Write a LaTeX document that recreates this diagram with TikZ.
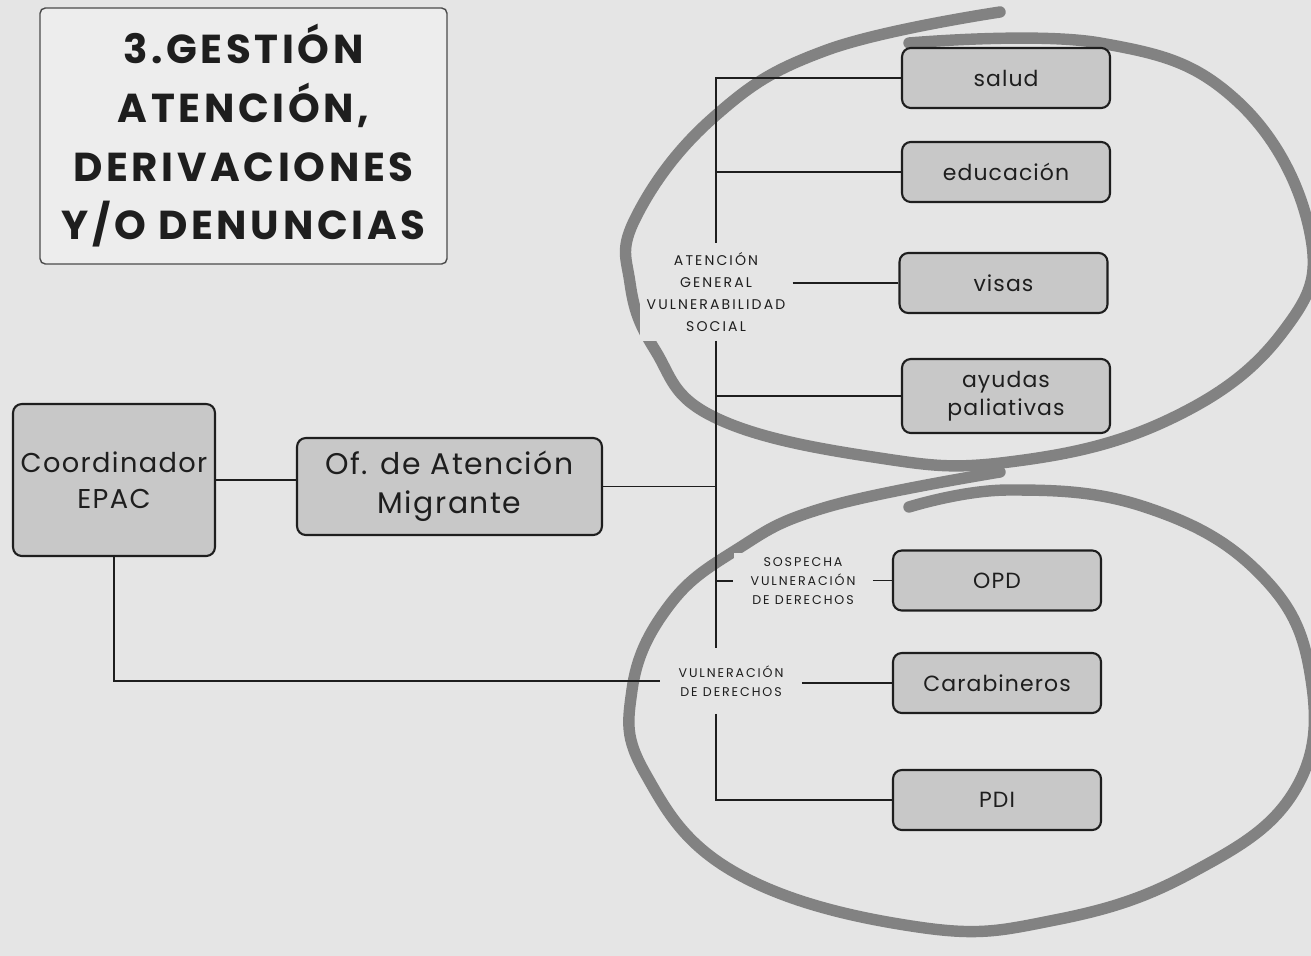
\documentclass[tikz,border=0pt]{standalone}
\usepackage{fontspec}
\setmainfont{Poppins}
\newfontfamily\boxfont[LetterSpace=5]{Poppins}
\newfontfamily\tagfont[LetterSpace=15]{Poppins}
\newfontfamily\titlefont[LetterSpace=9]{Poppins}

\definecolor{paper}{HTML}{E5E5E5}
\definecolor{boxgray}{HTML}{C8C8C8}
\definecolor{brushgray}{HTML}{828282}
\definecolor{titlefill}{HTML}{EDEDED}
\definecolor{ink}{HTML}{1E1E1E}

\begin{document}
\begin{tikzpicture}[x=0.02cm, y=-0.02cm,
    every node/.style={align=center, text=ink},
    unit/.style={draw=ink, line width=1.2pt, fill=boxgray, rounded corners=5pt,
        font=\boxfont\fontsize{12.5}{16}\selectfont,
        minimum width=4.16cm, minimum height=1.2cm},
    tag/.style={fill=paper, font=\tagfont\fontsize{8}{12.5}\selectfont,
        inner xsep=0.14cm, inner ysep=0.18cm},
    link/.style={draw=ink, line width=1.1pt},
    brush/.style={draw=brushgray, line width=6.5pt, line cap=round, line join=round}]

    % page
    \fill[paper] (0,0) rectangle (1311,956);
    \useasboundingbox (0,0) rectangle (1311,956);

    % hand drawn circles
    \draw[brush] plot[smooth, tension=0.7] coordinates {(1000,12) (827,50) (714,117)
        (636,217) (630,283) (655,350) (714,417) (873,457) (1009,462) (1168,420)
        (1282,333) (1310,233) (1236,100) (1100,43) (909,43)};
    \draw[brush] plot[smooth, tension=0.7] coordinates {(1000,472) (827,507) (736,550)
        (668,607) (632,690) (645,773) (736,873) (918,927) (1055,920) (1191,873)
        (1295,790) (1310,673) (1259,573) (1145,507) (1009,490) (909,507)};

    % title
    \node[draw=ink!80, line width=0.8pt, fill=titlefill, rounded corners=3pt,
        minimum width=8.14cm, minimum height=5.12cm,
        font=\titlefont\bfseries\fontsize{23}{33.4}\selectfont] (title)
        at (243.5,136) {3.GESTIÓN\\ATENCIÓN,\\DERIVACIONES\\Y/O DENUNCIAS};

    % left chain
    \node[unit, minimum width=4.04cm, minimum height=3.04cm,
        font=\boxfont\fontsize{15.5}{20.4}\selectfont] (coord)
        at (114,480) {Coordinador\\EPAC};
    \node[unit, minimum width=6.1cm, minimum height=1.94cm,
        font=\boxfont\fontsize{17}{22}\selectfont] (ofam)
        at (449.5,486.5) {Of. de Atención\\Migrante};

    % right boxes
    \foreach \n/\x/\y/\t in {salud/1006/78/salud, edu/1006/172/educación,
        visas/1003.5/283/visas, opd/997/580.5/OPD,
        cara/997/683/Carabineros, pdi/997/800/PDI} {
        \node[unit] (\n) at (\x,\y) {\t};
    }
    \node[unit, minimum height=1.48cm] (ayu) at (1006,396) {ayudas\\paliativas};

    % branch labels
    \node[tag] (atg) at (716,292) {ATENCIÓN\\GENERAL\\VULNERABILIDAD\\SOCIAL};
    \node[tag, font=\tagfont\fontsize{7.2}{10.8}\selectfont, inner xsep=0.34cm,
        inner ysep=0.1cm] (sos) at (803,581) {SOSPECHA\\VULNERACIÓN\\DE DERECHOS};
    \node[tag, font=\tagfont\fontsize{7.2}{10.8}\selectfont, inner xsep=0.36cm,
        inner ysep=0.34cm] (vdd) at (731,681) {VULNERACIÓN\\DE DERECHOS};

    % connectors
    \draw[link] (coord.east) -- (coord.east -| ofam.west);
    \draw[link] (ofam.east) -- (ofam.east -| atg.south);
    \draw[link] (salud.west) -| (atg.north);
    \draw[link] (edu.west) -- (edu.west -| atg.north);
    \draw[link] (atg.east |- visas.west) -- (visas.west);
    \draw[link] (ayu.west) -- (ayu.west -| atg.south);
    \draw[link] (atg.south) -- (atg.south |- vdd.north);
    \draw[link] (sos.west -| atg.south) -- (sos.west);
    \draw[link] (sos.east |- opd.west) -- (opd.west);
    \draw[link] (atg.south |- vdd.south) |- (pdi.west);
    \draw[link] (coord.south) |- (vdd.west);
    \draw[link] (vdd.east |- cara.west) -- (cara.west);

\end{tikzpicture}
\end{document}
